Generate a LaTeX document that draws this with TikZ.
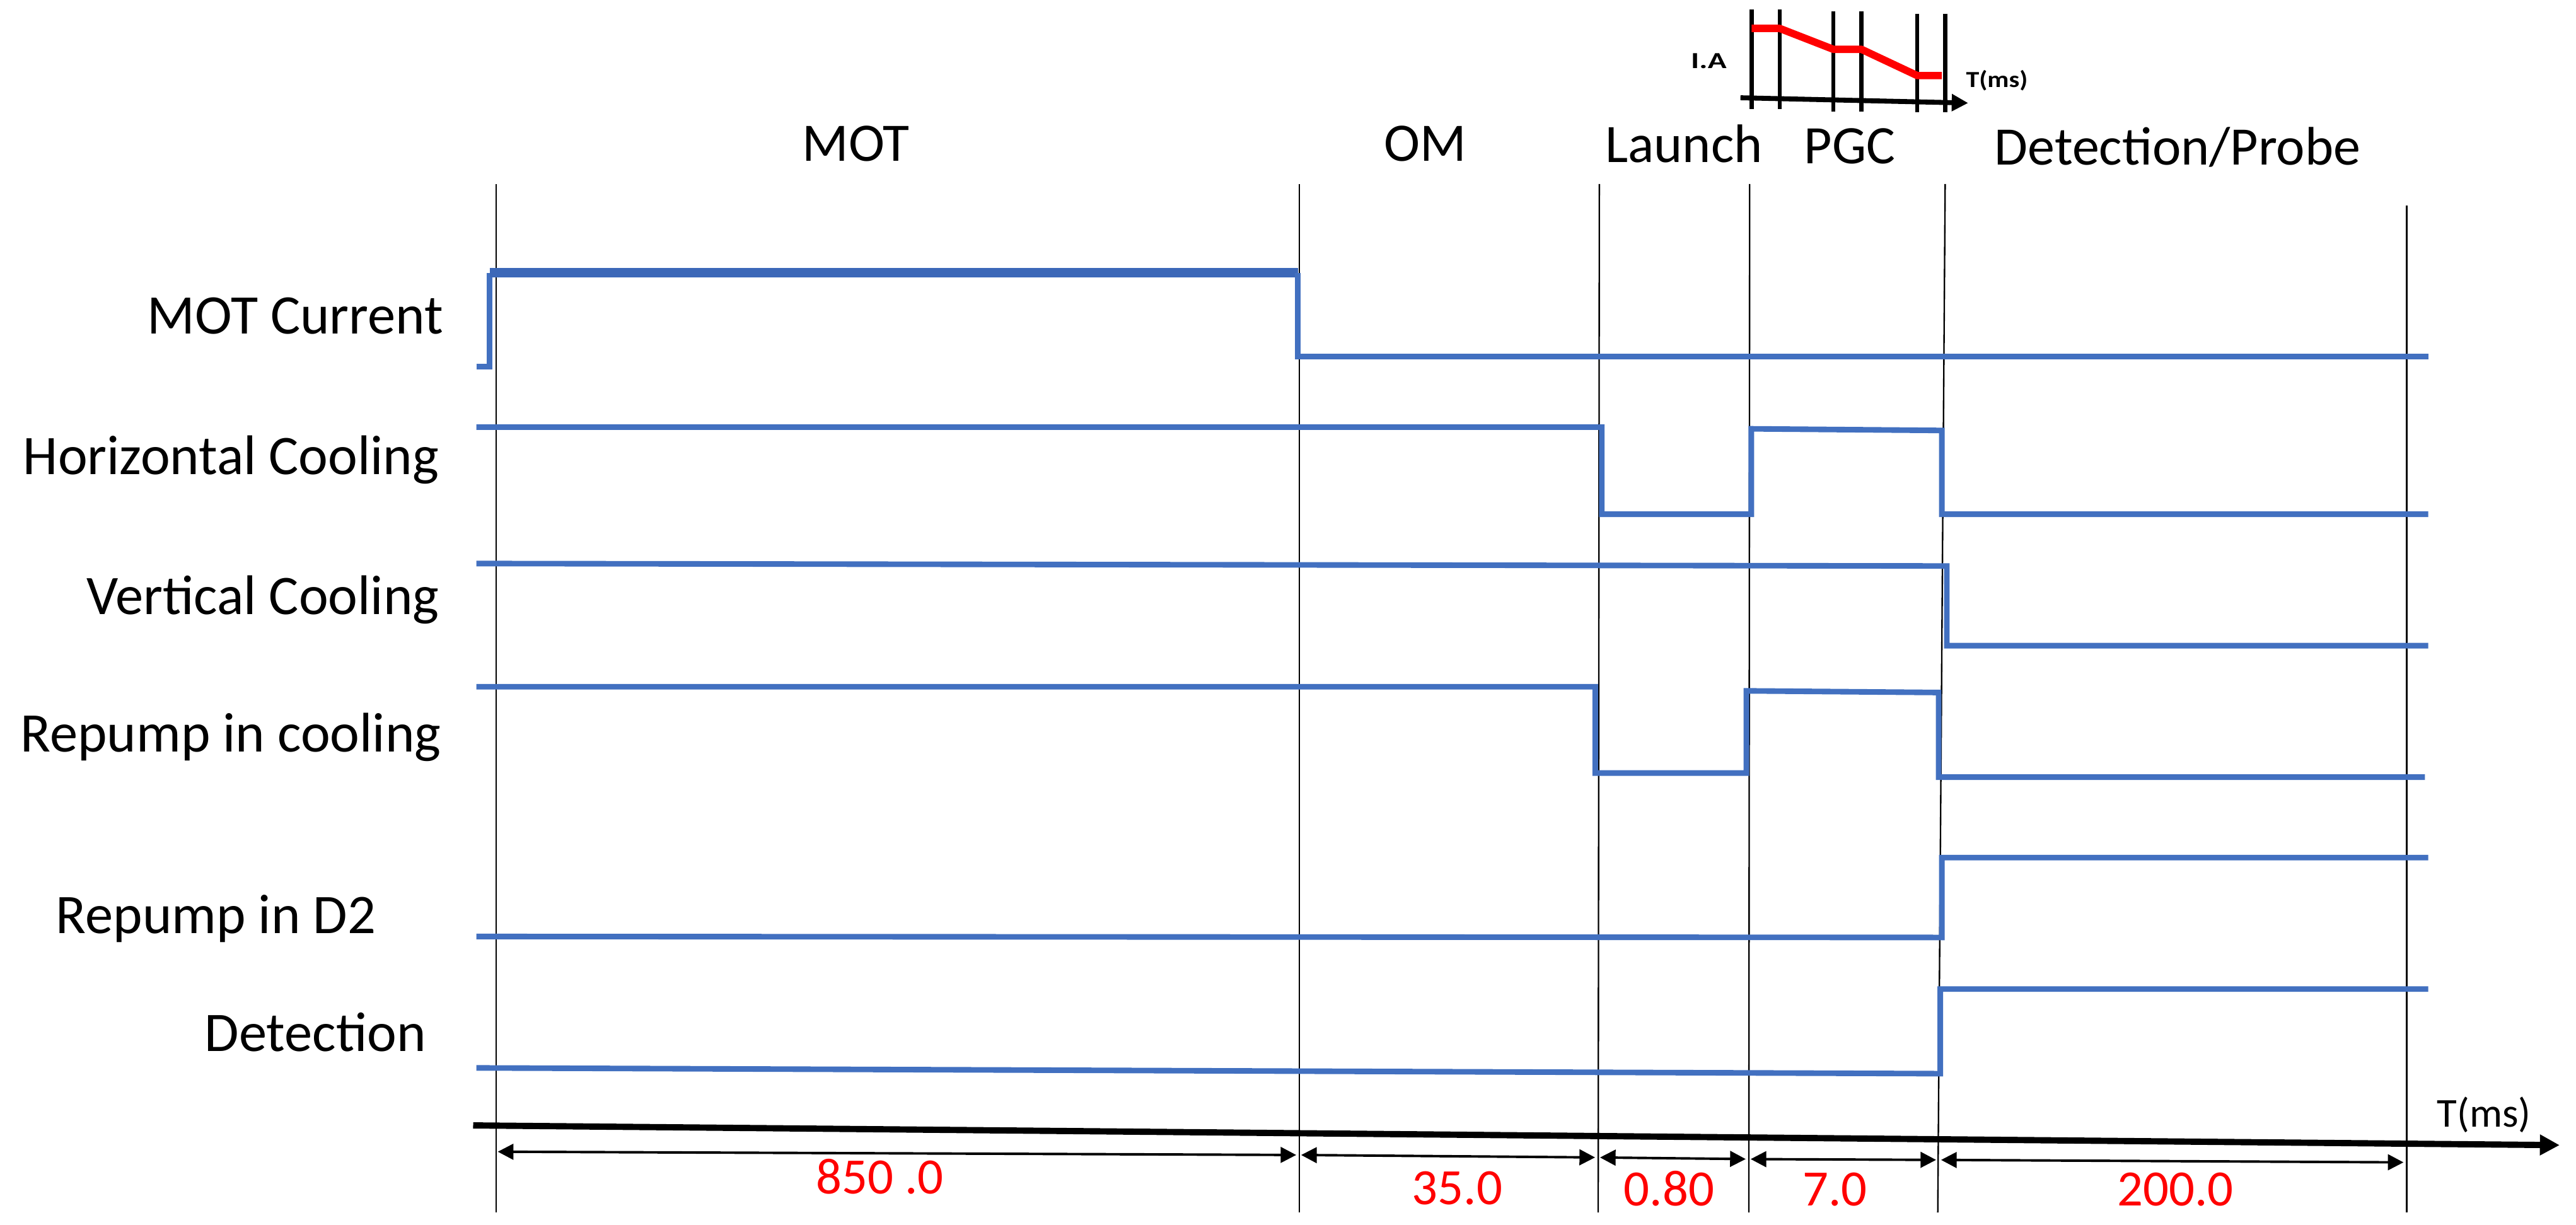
\documentclass[tikz,border=0pt]{standalone}
\usepackage{fontspec}
\setmainfont{Carlito}
\usetikzlibrary{arrows.meta}
\definecolor{sig}{RGB}{66,112,192}
\definecolor{sigtop}{RGB}{60,104,184}
\tikzset{
  sigline/.style={draw=sig, line width=3.4pt, line join=miter},
  vline/.style={draw=black, line width=0.9pt},
  rowlab/.style={anchor=base east, inner sep=0pt, font=\fontsize{34}{40}\selectfont},
  phaselab/.style={anchor=base, inner sep=0pt, font=\fontsize{33}{40}\selectfont},
  durlab/.style={anchor=base, inner sep=0pt, text=red, font=\fontsize{31}{36}\selectfont},
  dimarrow/.style={line width=1.5pt, {Triangle[length=9.5pt,width=9.5pt]}-{Triangle[length=9.5pt,width=9.5pt]}, shorten <=1pt, shorten >=2pt},
  mainaxis/.style={line width=3.8pt, -{Triangle[length=12pt,width=12pt]}},
  insetv/.style={draw=black, line width=2.4pt},
  insetred/.style={draw=red, line width=4.5pt, line join=round},
  insetaxis/.style={line width=3pt, -{Triangle[length=10pt,width=10pt]}},
  insetlab/.style={inner sep=0pt, font=\fontsize{14}{16}\selectfont\bfseries},
}
\begin{document}
\begin{tikzpicture}[x=1pt,y=-1pt]
\useasboundingbox (0,0) rectangle (1568,745.24);

% ---- phase boundaries (vertical lines)
\coordinate (t0top) at (302,112);   \coordinate (t0bot) at (302,738);
\coordinate (t1top) at (791,112);   \coordinate (t1bot) at (791,738);
\coordinate (t2top) at (973.5,112); \coordinate (t2bot) at (972.8,738);
\coordinate (t3top) at (1065,112);  \coordinate (t3bot) at (1064.5,738);
\coordinate (t4top) at (1184,112);  \coordinate (t4bot) at (1179.5,738);
\coordinate (t5top) at (1465,125);  \coordinate (t5bot) at (1465,738);
\foreach \i in {0,...,5} \draw[vline] (t\i top) -- (t\i bot);

% ---- phase labels
\node[phaselab] (pMOT) at (521,98) {MOT};
\node[phaselab] (pOM) at (867.5,98) {OM};
\node[phaselab] (pLaunch) at (1025,99) {Launch};
\node[phaselab] (pPGC) at (1126,99.5) {PGC};
\node[phaselab] (pDet) at (1325.5,100.5) {Detection/Probe};

% ---- row labels
\node[rowlab] (lMOT) at (270,203) {MOT Current};
\node[rowlab] (lHC) at (267.5,288.6) {Horizontal Cooling};
\node[rowlab] (lVC) at (267.5,374) {Vertical Cooling};
\node[rowlab] (lRC) at (268.7,457.5) {Repump in cooling};
\node[rowlab] (lRD) at (229,568) {Repump in D2};
\node[rowlab] (lDet) at (259.5,640) {Detection};

% ---- signals
\draw[sigline] (290,223) -- (298,223) -- (298,166);
\draw[draw=sigtop, line width=5.5pt] (298,166) -- (790,166);
\draw[sigline] (790,166) -- (790,217) -- (1478,217);
\draw[sigline] (290,260) -- (975,260) -- (975,313) -- (1066,313) -- (1066,261)
   -- (1182,262) -- (1182,313) -- (1478,313);
\draw[sigline] (290,343) -- (1185,344.5) -- (1185,393) -- (1478,393);
\draw[sigline] (290,418) -- (971,418) -- (971,470.5) -- (1063,470.5) -- (1063,420.5)
   -- (1180,421.5) -- (1180,473) -- (1476,473);
\draw[sigline] (290,570) -- (1182,570.6) -- (1182,522) -- (1478,522);
\draw[sigline] (290,650) -- (1181,653.5) -- (1181,602) -- (1478,602);

% ---- time axis
\coordinate (axL) at (288,685);
\coordinate (axR) at (1558,697);
\draw[mainaxis] (axL) -- (axR);
\node[anchor=base, inner sep=0pt, font=\fontsize{25}{30}\selectfont] (tms) at (1512,686) {T(ms)};

% ---- duration arrows
\coordinate (d0) at (302,701);
\coordinate (d1) at (791,703);
\coordinate (d2) at (972.9,704.5);
\coordinate (d3) at (1064.6,705.5);
\coordinate (d4) at (1180.5,706);
\coordinate (d5) at (1465,707.5);
\draw[dimarrow] (d0) -- (d1);
\draw[dimarrow] (d1) -- (d2);
\draw[dimarrow] (d2) -- (d3);
\draw[dimarrow] (d3) -- (d4);
\draw[dimarrow] (d4) -- (d5);

\node[durlab] (n850) at (535.5,726.6) {850 .0};
\node[durlab] (n35) at (887,733) {35.0};
\node[durlab] (n080) at (1016,734) {0.80};
\node[durlab] (n7) at (1117,734) {7.0};
\node[durlab] (n200) at (1324,734) {200.0};

% ---- inset (current ramp)
\coordinate (iv1t) at (1066.2,5.8) ; \coordinate (iv1b) at (1066.2,66.5);
\coordinate (iv2t) at (1083.3,5.8) ; \coordinate (iv2b) at (1083.3,66.5);
\coordinate (iv3t) at (1115.9,7)   ; \coordinate (iv3b) at (1115.9,67.8);
\coordinate (iv4t) at (1133,7)     ; \coordinate (iv4b) at (1133,67.8);
\coordinate (iv5t) at (1167,8.3)   ; \coordinate (iv5b) at (1167,68.4);
\coordinate (iv6t) at (1184,8.3)   ; \coordinate (iv6b) at (1184,68.4);
\foreach \i in {1,...,6} \draw[insetv] (iv\i t) -- (iv\i b);
\draw[insetred] (1066.2,17.3) -- (1083.3,17.3) -- (1115.9,30) -- (1133,30)
   -- (1167,46) -- (1182,46);
\coordinate (iaxL) at (1059.4,59.5);
\coordinate (iaxR) at (1198,62.7);
\draw[insetaxis] (iaxL) -- (iaxR);
\node[insetlab, anchor=base] (ia) at (1040.1,41.6) {\scalebox{1.35}[1]{I.A}};
\node[insetlab, anchor=base] (itms) at (1215.5,53) {\scalebox{1.15}[1]{T(ms)}};
\end{tikzpicture}
\end{document}
